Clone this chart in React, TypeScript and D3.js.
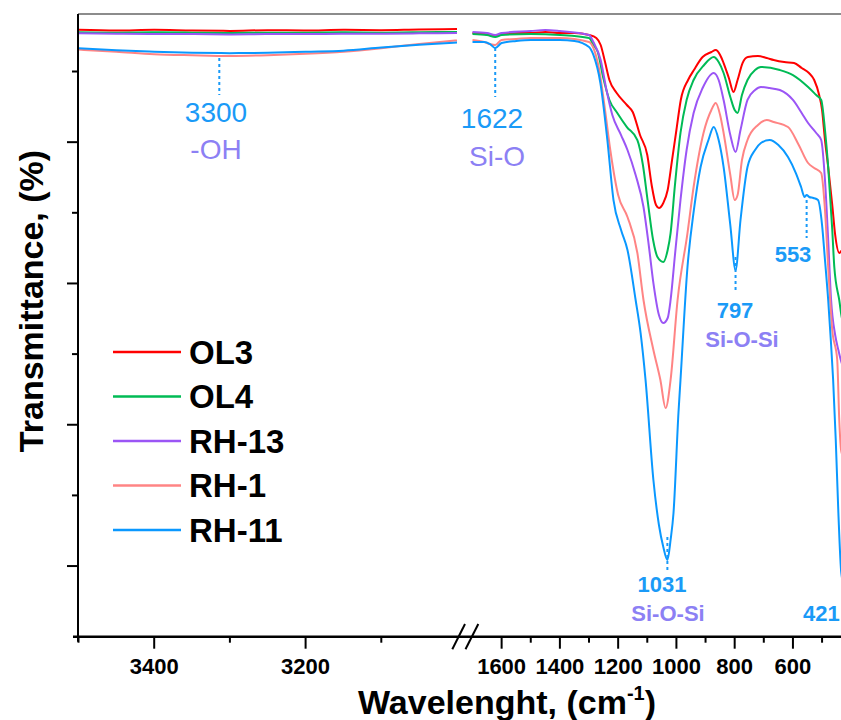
import React from "react";
import * as d3 from "d3";

// ---------- DATA (wavenumber cm-1, transmittance %) ----------
const seriesNames = ["OL3", "OL4", "RH-13", "RH-1", "RH-11"];
const seriesColors = ["#ff0000", "#00bb55", "#9b55f5", "#ff8484", "#0a98ff"];

const ol3: [number, number][] = [
  [3500, 85.9], [3450, 85.8], [3400, 85.9], [3350, 85.8], [3300, 85.75], [3250, 85.85], [3200, 85.8], [3150, 85.9], [3100, 85.85], [3050, 85.95], [3000, 86.0],
  [1700, 85.45], [1660, 85.31], [1640, 85.17], [1622, 85.02], [1600, 85.31], [1550, 85.45], [1500, 85.45], [1450, 85.59], [1400, 85.45], [1350, 85.45],
  [1300, 85.17], [1275, 84.74], [1260, 83.75], [1245, 81.34], [1230, 78.8], [1205, 76.96], [1170, 75.26], [1150, 74.27], [1125, 71.01], [1100, 68.18],
  [1085, 63.94], [1070, 61.1], [1060, 60.68], [1045, 61.39], [1030, 63.23], [1015, 67.47], [1000, 71.72], [985, 75.97], [960, 78.8], [940, 80.21],
  [910, 82.05], [880, 82.76], [865, 83.04], [850, 82.34], [838, 81.2], [820, 79.08], [804, 77.1], [790, 78.8], [773, 81.2], [755, 82.05],
  [720, 82.19], [690, 81.91], [666, 81.63], [630, 81.34], [596, 81.2], [570, 80.5], [545, 79.79], [527, 78.8], [510, 76.67], [500, 74.55],
  [490, 70.3], [479, 66.48], [465, 61.1], [455, 56.86], [441, 54.31], [430, 54.74], [420, 54.74],
];

const ol4: [number, number][] = [
  [3500, 85.55], [3450, 85.5], [3400, 85.55], [3350, 85.5], [3300, 85.45], [3250, 85.5], [3200, 85.5], [3150, 85.55], [3100, 85.5], [3050, 85.55], [3000, 85.6],
  [1700, 85.31], [1650, 85.17], [1622, 84.88], [1600, 85.17], [1500, 85.31], [1400, 85.17], [1300, 84.74], [1285, 83.75], [1270, 82.76],
  [1251, 79.08], [1230, 75.97], [1203, 74.13], [1170, 72.14], [1134, 70.3], [1115, 66.77], [1099, 61.81], [1080, 56.15], [1065, 53.74],
  [1045, 53.04], [1030, 54.74], [1020, 57.14], [1005, 63.94], [986, 71.3], [965, 75.97], [941, 78.8], [905, 80.92], [872, 82.05], [855, 81.34],
  [838, 79.79], [815, 76.39], [800, 74.55], [790, 74.13], [775, 76.67], [756, 78.8], [730, 80.21], [710, 80.64], [645, 80.21], [600, 79.5],
  [548, 77.81], [520, 76.67], [503, 75.97], [490, 71.72], [479, 66.48], [465, 57.57], [458, 52.33], [441, 47.66], [430, 44.83], [420, 44.55],
];

const rh13: [number, number][] = [
  [3500, 85.4], [3450, 85.35], [3400, 85.3], [3350, 85.3], [3300, 85.25], [3250, 85.3], [3200, 85.3], [3150, 85.35], [3100, 85.35], [3050, 85.4], [3000, 85.45],
  [1700, 85.59], [1650, 85.45], [1622, 85.17], [1600, 85.45], [1500, 85.73], [1450, 85.87], [1400, 85.73], [1300, 85.17], [1285, 84.18],
  [1260, 81.63], [1240, 77.38], [1220, 73.84], [1190, 71.01], [1168, 68.89], [1140, 65.35], [1113, 60.82], [1095, 55.44], [1079, 50.06],
  [1060, 45.54], [1045, 44.4], [1030, 45.11], [1020, 47.66], [1005, 54.03], [986, 61.81], [965, 68.89], [941, 74.13], [910, 77.66], [872, 79.79],
  [855, 78.8], [838, 75.97], [815, 71.01], [797, 68.61], [780, 71.72], [756, 75.97], [730, 77.38], [710, 77.81], [680, 77.66], [645, 77.38],
  [600, 75.97], [570, 74.13], [548, 72.71], [520, 71.3], [503, 70.3], [490, 64.64], [479, 56.15], [469, 47.66], [455, 42.7], [444, 40.58],
  [430, 38.46], [420, 38.03],
];

const rh1: [number, number][] = [
  [3500, 83.1], [3450, 82.8], [3400, 82.45], [3350, 82.3], [3300, 82.2], [3250, 82.3], [3200, 82.5], [3150, 82.8], [3100, 83.3], [3050, 83.9], [3000, 84.4],
  [1700, 84.46], [1660, 84.18], [1640, 83.89], [1622, 83.75], [1600, 84.46], [1550, 84.6], [1500, 84.74], [1400, 84.74], [1300, 84.18],
  [1285, 83.33], [1265, 80.21], [1245, 74.55], [1227, 68.89], [1200, 62.52], [1168, 59.41], [1134, 54.31], [1113, 47.66], [1079, 40.58],
  [1055, 36.34], [1037, 32.37], [1020, 36.34], [996, 47.66], [962, 57.14], [941, 63.65], [907, 71.3], [880, 74.55], [865, 75.54], [850, 73.84],
  [838, 71.3], [815, 65.35], [800, 61.81], [790, 62.52], [775, 67.47], [756, 70.3], [720, 72.43], [690, 73.14], [666, 72.85], [617, 72.14],
  [580, 69.6], [548, 67.05], [527, 66.34], [503, 65.63], [490, 60.4], [479, 52.33], [465, 43.41], [448, 39.2], [441, 30.7], [435, 26.5],
  [430, 25.72], [420, 25.72],
];

const rh11: [number, number][] = [
  [3500, 83.3], [3450, 83.0], [3400, 82.8], [3350, 82.65], [3300, 82.6], [3250, 82.65], [3200, 82.8], [3150, 82.95], [3100, 83.4], [3050, 83.8], [3000, 84.1],
  [1700, 84.18], [1660, 84.18], [1640, 83.89], [1622, 83.33], [1600, 84.03], [1550, 84.32], [1500, 84.46], [1400, 84.46], [1350, 84.32],
  [1300, 83.47], [1285, 82.34], [1261, 78.37], [1237, 70.3], [1216, 61.81], [1190, 57.57], [1168, 54.74], [1140, 47.66], [1123, 42.99],
  [1106, 36.34], [1079, 22.18], [1060, 15.81], [1045, 12.7], [1031, 10.86], [1020, 13.69], [1010, 17.51], [993, 31.66], [986, 36.34],
  [962, 52.33], [940, 60.4], [917, 66.48], [890, 70.3], [872, 72.14], [855, 70.3], [838, 66.48], [815, 58.27], [797, 51.9], [780, 58.98],
  [756, 66.48], [730, 68.89], [710, 69.88], [680, 70.3], [650, 69.6], [617, 67.9], [590, 65.63], [572, 63.65], [560, 62.24], [553, 62.52],
  [544, 62.24], [530, 62.1], [514, 61.81], [500, 58.27], [490, 53.32], [479, 47.66], [470, 41.99], [462, 36.34], [453, 27.84], [444, 17.51],
  [434, 9.02], [425, 7.32], [420, 6.61],
];

const allSeries = [ol3, ol4, rh13, rh1, rh11];

const leftTicksMajor = [3400, 3200];
const leftTicksMinor = [3500, 3300, 3100];
const rightTicksMajor = [1600, 1400, 1200, 1000, 800, 600];
const rightTicksMinor = [1500, 1300, 1100, 900, 700, 500];
const yTicksMajor = [10, 30, 50, 70];
const yTicksMinor = [20, 40, 60, 80];

const FONT = "'Liberation Sans', Arial, Helvetica, sans-serif";
const LABEL_BLUE = "#1a9af7";
const LABEL_PURPLE = "#8c80f4";

export default function App() {
  const W = 841;
  const H = 720;
  const axisX = 78;
  const axisY = 636.7;
  const topY = 14;

  const xL = d3.scaleLinear().domain([3500, 3000]).range([78.5, 457]);
  const xR = d3.scaleLinear().domain([1700, 400]).range([472.5, 851.2]);
  const y = d3.scaleLinear().domain([0, 88.14]).range([axisY, topY]);
  const xOf = (w: number) => (w >= 2000 ? xL(w) : xR(w));

  const line = d3
    .line<[number, number]>()
    .x((d) => xOf(d[0]))
    .y((d) => y(d[1]))
    .curve(d3.curveMonotoneX);

  const legendY0 = 352;
  const legendDy = 44.5;

  return (
    <svg
      width={W}
      height={H}
      style={{ position: "absolute", left: 0, top: 0, background: "#fff" }}
      fontFamily={FONT}
    >
      <rect x={0} y={0} width={W} height={H} fill="#fff" />
      {/* top frame */}
      <line x1={axisX} x2={W} y1={topY} y2={topY} stroke="#666" strokeWidth={1.5} />

      {/* series */}
      {allSeries.map((s, i) => {
        const left = s.filter((d) => d[0] >= 2000);
        const right = s.filter((d) => d[0] < 2000);
        return (
          <g key={i} fill="none" stroke={seriesColors[i]} strokeWidth={2}>
            <path d={line(left) || ""} />
            <path d={line(right) || ""} />
          </g>
        );
      })}

      {/* axes */}
      <line x1={axisX} x2={axisX} y1={topY} y2={axisY + 5} stroke="#000" strokeWidth={2} />
      <line x1={73} x2={W} y1={axisY} y2={axisY} stroke="#000" strokeWidth={2.5} />

      {yTicksMajor.map((t) => (
        <line key={"ym" + t} x1={axisX - 11} x2={axisX} y1={y(t)} y2={y(t)} stroke="#000" strokeWidth={2} />
      ))}
      {yTicksMinor.map((t) => (
        <line key={"yn" + t} x1={axisX - 6} x2={axisX} y1={y(t)} y2={y(t)} stroke="#000" strokeWidth={2} />
      ))}

      {leftTicksMajor.map((t) => (
        <g key={"lm" + t}>
          <line x1={xL(t)} x2={xL(t)} y1={axisY} y2={axisY + 12} stroke="#000" strokeWidth={2} />
          <text x={xL(t)} y={674} textAnchor="middle" fontSize={22} fontWeight="bold">{t}</text>
        </g>
      ))}
      {leftTicksMinor.map((t) => (
        <line key={"ln" + t} x1={xL(t)} x2={xL(t)} y1={axisY} y2={axisY + 6} stroke="#000" strokeWidth={2} />
      ))}
      {rightTicksMajor.map((t) => (
        <g key={"rm" + t}>
          <line x1={xR(t)} x2={xR(t)} y1={axisY} y2={axisY + 12} stroke="#000" strokeWidth={2} />
          <text x={xR(t)} y={674} textAnchor="middle" fontSize={22} fontWeight="bold">{t}</text>
        </g>
      ))}
      {rightTicksMinor.map((t) => (
        <line key={"rn" + t} x1={xR(t)} x2={xR(t)} y1={axisY} y2={axisY + 6} stroke="#000" strokeWidth={2} />
      ))}

      {/* axis break */}
      <line x1={452.3} y1={649.3} x2={465} y2={624} stroke="#000" strokeWidth={2} />
      <line x1={465.5} y1={649.3} x2={478.3} y2={624} stroke="#000" strokeWidth={2} />

      {/* axis titles */}
      <text x={507} y={714} textAnchor="middle" fontSize={34} fontWeight="bold">
        Wavelenght, (cm
        <tspan fontSize={20} dy={-14}>-1</tspan>
        <tspan dy={14}>)</tspan>
      </text>
      <text
        transform={`translate(43,301) rotate(-90)`}
        textAnchor="middle"
        fontSize={34}
        fontWeight="bold"
      >
        Transmittance, (%)
      </text>

      {/* annotations */}
      <g stroke={LABEL_BLUE} strokeWidth={2} strokeDasharray="3,3">
        <line x1={xL(3314)} x2={xL(3314)} y1={58} y2={95} />
        <line x1={xR(1622)} x2={xR(1622)} y1={48} y2={97} />
        <line x1={xR(797)} x2={xR(797)} y1={257} y2={293} />
        <line x1={xR(553)} x2={xR(553)} y1={200} y2={238} />
        <line x1={xR(1031)} x2={xR(1031)} y1={537} y2={572} />
      </g>
      <g fontSize={28} textAnchor="middle">
        <text x={216} y={121.5} fill={LABEL_BLUE}>3300</text>
        <text x={216} y={159} fill={LABEL_PURPLE}>-OH</text>
        <text x={492} y={128} fill={LABEL_BLUE}>1622</text>
        <text x={497} y={166} fill={LABEL_PURPLE}>Si-O</text>
      </g>
      <g fontSize={22} fontWeight="bold" textAnchor="middle">
        <text x={735} y={318} fill={LABEL_BLUE}>797</text>
        <text x={742} y={347} fill={LABEL_PURPLE}>Si-O-Si</text>
        <text x={793} y={262} fill={LABEL_BLUE}>553</text>
        <text x={662} y={592} fill={LABEL_BLUE}>1031</text>
        <text x={668} y={621} fill={LABEL_PURPLE}>Si-O-Si</text>
        <text x={803} y={621} fill={LABEL_BLUE} textAnchor="start">421</text>
      </g>

      {/* legend */}
      {seriesNames.map((n, i) => (
        <g key={n}>
          <line
            x1={113}
            x2={181}
            y1={legendY0 + i * legendDy}
            y2={legendY0 + i * legendDy}
            stroke={seriesColors[i]}
            strokeWidth={2.5}
          />
          <text x={189} y={legendY0 + i * legendDy + 11.5} fontSize={33} fontWeight="bold">
            {n}
          </text>
        </g>
      ))}
    </svg>
  );
}
